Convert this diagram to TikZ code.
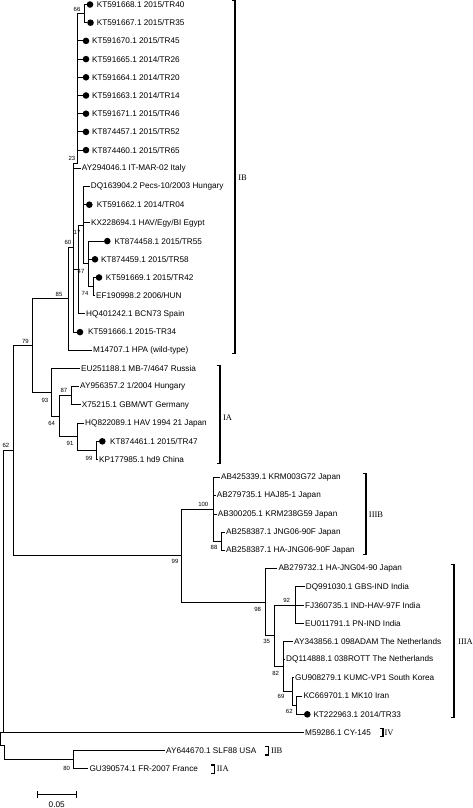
\documentclass[tikz,border=0pt]{standalone}
\usepackage{fontspec}
\setmainfont{Liberation Sans}
\newfontfamily\clfont{Liberation Serif}
\begin{document}
\begin{tikzpicture}[x=1pt,y=-1pt,
  br/.style={line width=0.9pt,line cap=rect},
  dot/.style={circle,fill=black,inner sep=0pt,minimum size=6.6pt},
  leaf/.style={anchor=west,inner xsep=1.5pt,inner ysep=0pt,font=\fontsize{8.2}{9}\selectfont},
  bs/.style={inner sep=0pt,font=\fontsize{6}{7}\selectfont},
  cl/.style={inner sep=0pt,font=\clfont\fontsize{8.5}{10}\selectfont},
  brk/.style={line width=1.1pt}]
\useasboundingbox (0,0) rectangle (473,808);
% internal nodes
\coordinate (n66) at (84,13.6);
\coordinate (n23) at (77.5,163);
\coordinate (n74) at (93,286.6);
\coordinate (n47) at (88,263.85);
\coordinate (n17) at (83,225.2);
\coordinate (nB) at (78,269.55);
\coordinate (n60) at (73.5,247.55);
\coordinate (n85) at (68,298.9);
\coordinate (n87) at (71.7,395.8);
\coordinate (n99a) at (96,450.4);
\coordinate (n91) at (77.7,436.75);
\coordinate (n64) at (59.3,416.3);
\coordinate (n93) at (51.7,392.4);
\coordinate (n79) at (32,345.65);
\coordinate (n88) at (221.7,541.4);
\coordinate (n100) at (213.3,509.55);
\coordinate (n92) at (295.7,605.1);
\coordinate (n62b) at (296.7,705.2);
\coordinate (n69) at (292.3,691.55);
\coordinate (n82) at (283.3,666.5);
\coordinate (n35) at (274.3,635.8);
\coordinate (n98) at (265,602.25);
\coordinate (n99b) at (181.7,555.9);
\coordinate (n62) at (13.3,450.8);
\coordinate (n80) at (73.3,759.8);
\coordinate (nS) at (3.3,732.5);
\coordinate (nR) at (0.6,738.8);
\coordinate (nT) at (4.3,745);
% leaves
\node[dot] (d0) at (90,4.5) {};
\node[leaf] (t0) at (95.2,4.5) {KT591668.1 2015/TR40};
\node[dot] (d1) at (90.5,22.7) {};
\node[leaf] (t1) at (95.2,22.7) {KT591667.1 2015/TR35};
\node[dot] (d2) at (86,40.9) {};
\node[leaf] (t2) at (90.5,40.9) {KT591670.1 2015/TR45};
\node[dot] (d3) at (86,59.1) {};
\node[leaf] (t3) at (90.5,59.1) {KT591665.1 2014/TR26};
\node[dot] (d4) at (86,77.3) {};
\node[leaf] (t4) at (90.5,77.3) {KT591664.1 2014/TR20};
\node[dot] (d5) at (86,95.5) {};
\node[leaf] (t5) at (90.5,95.5) {KT591663.1 2014/TR14};
\node[dot] (d6) at (86,113.7) {};
\node[leaf] (t6) at (90.5,113.7) {KT591671.1 2015/TR46};
\node[dot] (d7) at (86,131.9) {};
\node[leaf] (t7) at (90.5,131.9) {KT874457.1 2015/TR52};
\node[dot] (d8) at (86,150.1) {};
\node[leaf] (t8) at (90.5,150.1) {KT874460.1 2015/TR65};
\node[leaf] (t9) at (80.2,168.3) {AY294046.1 IT-MAR-02 Italy};
\node[leaf] (t10) at (89.2,186.5) {DQ163904.2 Pecs-10/2003 Hungary};
\node[dot] (d11) at (89.3,204.7) {};
\node[leaf] (t11) at (95.2,204.7) {KT591662.1 2014/TR04};
\node[leaf] (t12) at (89.5,222.9) {KX228694.1 HAV/Egy/BI Egypt};
\node[dot] (d13) at (107.3,241.1) {};
\node[leaf] (t13) at (112.8,241.1) {KT874458.1 2015/TR55};
\node[dot] (d14) at (95,259.3) {};
\node[leaf] (t14) at (99.5,259.3) {KT874459.1 2015/TR58};
\node[dot] (d15) at (99,277.5) {};
\node[leaf] (t15) at (104.2,277.5) {KT591669.1 2015/TR42};
\node[leaf] (t16) at (94.5,295.7) {EF190998.2 2006/HUN};
\node[leaf] (t17) at (84.5,313.9) {HQ401242.1 BCN73 Spain};
\node[dot] (d18) at (80,332.1) {};
\node[leaf] (t18) at (86.5,332.1) {KT591666.1 2015-TR34};
\node[leaf] (t19) at (91.5,350.3) {M14707.1 HPA (wild-type)};
\node[leaf] (t20) at (79.5,368.5) {EU251188.1 MB-7/4647 Russia};
\node[leaf] (t21) at (78.5,386.7) {AY956357.2 1/2004 Hungary};
\node[leaf] (t22) at (80.2,404.9) {X75215.1 GBM/WT Germany};
\node[leaf] (t23) at (83.5,423.1) {HQ822089.1 HAV 1994 21 Japan};
\node[dot] (d24) at (102.3,441.3) {};
\node[leaf] (t24) at (108.5,441.3) {KT874461.1 2015/TR47};
\node[leaf] (t25) at (97.5,459.5) {KP177985.1 hd9 China};
\node[leaf] (t26) at (219.5,477.7) {AB425339.1 KRM003G72 Japan};
\node[leaf] (t27) at (215.2,495.9) {AB279735.1 HAJ85-1 Japan};
\node[leaf] (t28) at (216.2,514.1) {AB300205.1 KRM238G59 Japan};
\node[leaf] (t29) at (224.5,532.3) {AB258387.1 JNG06-90F Japan};
\node[leaf] (t30) at (224.5,550.5) {AB258387.1 HA-JNG06-90F Japan};
\node[leaf] (t31) at (276.8,568.7) {AB279732.1 HA-JNG04-90 Japan};
\node[leaf] (t32) at (304.2,586.9) {DQ991030.1 GBS-IND India};
\node[leaf] (t33) at (303.5,605.1) {FJ360735.1 IND-HAV-97F India};
\node[leaf] (t34) at (303.5,623.3) {EU011791.1 PN-IND India};
\node[leaf] (t35) at (292.5,641.5) {AY343856.1 098ADAM The Netherlands};
\node[leaf] (t36) at (284.5,659.7) {DQ114888.1 038ROTT The Netherlands};
\node[leaf] (t37) at (293.5,677.9) {GU908279.1 KUMC-VP1 South Korea};
\node[leaf] (t38) at (301.8,696.1) {KC669701.1 MK10 Iran};
\node[dot] (d39) at (307.3,714.3) {};
\node[leaf] (t39) at (311.8,714.3) {KT222963.1 2014/TR33};
\node[leaf] (t40) at (303.5,732.5) {M59286.1 CY-145};
\node[leaf] (t41) at (164.5,750.7) {AY644670.1 SLF88 USA};
\node[leaf] (t42) at (87.8,768.9) {GU390574.1 FR-2007 France};
% branches
\draw[br] (n66) |- (d0);
\draw[br] (n66) |- (d1);
\draw[br] (n23) |- (n66);
\foreach \k in {2,...,8} {\draw[br] (n23) |- (d\k);}
\draw[br] (n60) |- (n23);
\draw[br] (n60) |- (t9);
\draw[br] (n17) |- (t10);
\draw[br] (n17) |- (d11);
\draw[br] (n17) |- (t12);
\draw[br] (n17) |- (n47);
\draw[br] (n47) |- (d13);
\draw[br] (n47) |- (d14);
\draw[br] (n47) |- (n74);
\draw[br] (n74) |- (d15);
\draw[br] (n74) |- (t16);
\draw[br] (nB) |- (n17);
\draw[br] (nB) |- (t17);
\draw[br] (n60) |- (nB);
\draw[br] (n60) |- (d18);
\draw[br] (n85) |- (n60);
\draw[br] (n85) |- (t19);
\draw[br] (n79) |- (n85);
\draw[br] (n93) |- (t20);
\draw[br] (n87) |- (t21);
\draw[br] (n87) |- (t22);
\draw[br] (n64) |- (n87);
\draw[br] (n91) |- (t23);
\draw[br] (n99a) |- (d24);
\draw[br] (n99a) |- (t25);
\draw[br] (n91) |- (n99a);
\draw[br] (n64) |- (n91);
\draw[br] (n93) |- (n64);
\draw[br] (n79) |- (n93);
\draw[br] (n62) |- (n79);
\draw[br] (n100) |- (t26);
\draw[br] (n100) |- (t27);
\draw[br] (n100) |- (t28);
\draw[br] (n88) |- (t29);
\draw[br] (n88) |- (t30);
\draw[br] (n100) |- (n88);
\draw[br] (n99b) |- (n100);
\draw[br] (n98) |- (t31);
\draw[br] (n92) |- (t32);
\draw[br] (n92) |- (t33);
\draw[br] (n92) |- (t34);
\draw[br] (n35) |- (n92);
\draw[br] (n82) |- (t35);
\draw[br] (n82) |- (t36);
\draw[br] (n69) |- (t37);
\draw[br] (n62b) |- (t38);
\draw[br] (n62b) |- (d39);
\draw[br] (n69) |- (n62b);
\draw[br] (n82) |- (n69);
\draw[br] (n35) |- (n82);
\draw[br] (n98) |- (n35);
\draw[br] (n99b) |- (n98);
\draw[br] (n62) |- (n99b);
\draw[br] (nS) |- (n62);
\draw[br] (nS) -- (t40);
\draw[br] (nR) |- (nS);
\draw[br] (nR) |- (nT);
\draw[br] (nT) |- (n80);
\draw[br] (n80) |- (t41);
\draw[br] (n80) |- (t42);
% bootstrap values
\node[bs] (b66) at (77,9) {66};
\node[bs] (b23) at (72,158) {23};
\node[bs] (b60) at (68,242) {60};
\node[bs] (b85) at (59,294) {85};
\node[bs] (b17) at (77,232) {17};
\node[bs] (b47) at (81,271) {47};
\node[bs] (b74) at (85,293) {74};
\node[bs] (b79) at (25.5,341) {79};
\node[bs] (b93) at (45,400) {93};
\node[bs] (b87) at (64,390) {87};
\node[bs] (b64) at (51.7,423) {64};
\node[bs] (b91) at (70,443) {91};
\node[bs] (b99a) at (89,458) {99};
\node[bs] (b62) at (6,445) {62};
\node[bs] (b100) at (203.3,504.5) {100};
\node[bs] (b88) at (214,547.7) {88};
\node[bs] (b99b) at (175,561.7) {99};
\node[bs] (b98) at (257.7,609) {98};
\node[bs] (b92) at (286.7,600) {92};
\node[bs] (b35) at (266.7,641.7) {35};
\node[bs] (b82) at (275.7,673.3) {82};
\node[bs] (b69) at (281,696.7) {69};
\node[bs] (b62b) at (289.3,711.7) {62};
\node[bs] (b80) at (66.7,768.3) {80};
% clade brackets
\draw[brk] (231.5,0.8) -- (235,0.8) -- (235,353.3) -- (231.5,353.3);
\node[cl] (cIB) at (242.5,177.7) {IB};
\draw[brk] (216.5,365.5) -- (220,365.5) -- (220,463.3) -- (216.5,463.3);
\node[cl] (cIA) at (227.5,417.3) {IA};
\draw[brk] (362.5,473.3) -- (366,473.3) -- (366,554.3) -- (362.5,554.3);
\node[cl] (cIIIB) at (376,514.3) {IIIB};
\draw[brk] (450.5,564.3) -- (454,564.3) -- (454,717.7) -- (450.5,717.7);
\node[cl,anchor=west] (cIIIA) at (458,641.5) {IIIA};
\draw[brk] (379.5,728.3) -- (383,728.3) -- (383,736.8) -- (379.5,736.8);
\node[cl] (cIV) at (389,732.7) {IV};
\draw[brk] (264.8,746.7) -- (268.3,746.7) -- (268.3,755) -- (264.8,755);
\node[cl] (cIIB) at (276.7,751) {IIB};
\draw[brk] (210.8,765) -- (214.3,765) -- (214.3,773.3) -- (210.8,773.3);
\node[cl] (cIIA) at (222.8,769) {IIA};
% scale bar
\coordinate (sb1) at (37.7,794.3);
\coordinate (sb2) at (76.7,794.3);
\draw[br] (sb1) -- (sb2);
\draw[br] (37.7,791.5) -- (37.7,797.1);
\draw[br] (76.7,791.5) -- (76.7,797.1);
\node[inner sep=0pt,font=\fontsize{8.2}{9}\selectfont] (sbl) at (56.7,804.5) {0.05};
\end{tikzpicture}
\end{document}
